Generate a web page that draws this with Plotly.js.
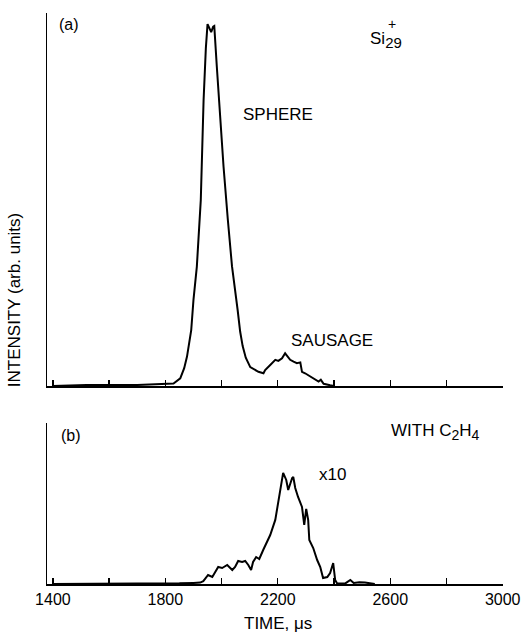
<!DOCTYPE html>
<html>
<head>
<meta charset="utf-8">
<script src="https://cdn.plot.ly/plotly-3.0.1.min.js"></script>
<style>html,body{margin:0;padding:0;background:#fff;}#chart{width:528px;height:634px;}</style>
</head>
<body>
<div id="chart"></div>
<script>
// Panel (a): Si29+ time-of-flight signal (arb. units)
var timeA = [1400, 1520, 1700, 1829, 1853, 1867, 1877, 1886, 1892, 1900, 1912, 1926, 1936, 1944, 1950, 1957, 1963, 1970, 1974, 1983, 1995, 2007, 2022, 2037, 2057, 2066, 2075, 2086, 2102, 2120, 2131, 2149, 2155, 2173, 2191, 2202, 2215, 2226, 2235, 2244, 2256, 2268, 2280, 2286, 2297, 2315, 2333, 2345, 2353, 2363, 2386, 2400];
var intensityA = [0, 0.3, 0.3, 0.7, 2.1, 4.9, 8.1, 12.7, 15.4, 23.7, 32.9, 51.2, 78.8, 93, 99.7, 98.5, 97.5, 99, 99.2, 88.0, 74, 60.4, 46, 33, 21, 15, 11, 7.8, 5.2, 4.3, 3.9, 3.5, 4.4, 5.8, 7.2, 6.9, 7.6, 9.0, 8.1, 7.2, 6.7, 6.3, 6.5, 3.9, 3.5, 2.6, 1.7, 1.2, 1.7, 0.6, 0.2, 0];

// Panel (b): with C2H4 (x10)
var timeB = [1400, 1800, 1850, 1900, 1924, 1935, 1952, 1967, 1977, 1988, 2002, 2020, 2038, 2048, 2059, 2073, 2084, 2095, 2105, 2112, 2123, 2134, 2148, 2173, 2191, 2201, 2212, 2219, 2230, 2237, 2251, 2255, 2262, 2272, 2286, 2294, 2301, 2308, 2312, 2326, 2340, 2351, 2361, 2376, 2386, 2397, 2404, 2411, 2440, 2458, 2470, 2490, 2510, 2530, 2545];
var intensityB = [0, 0.2, 0.6, 1.0, 1.3, 2.5, 8.1, 6.3, 10.8, 15.3, 14.4, 17.1, 12.6, 15.3, 20.7, 19.8, 20.7, 17.1, 12.6, 19.8, 24.3, 22.5, 30.6, 44.1, 57.7, 73.0, 87.4, 100, 93.7, 84.7, 95.5, 96.4, 86.5, 78.4, 69.4, 53.2, 67.6, 57.7, 39.6, 32.4, 21.6, 15.3, 5.4, 6.3, 9.9, 18.9, 3.6, 0.5, 0.5, 3.6, 1.0, 1.5, 1.3, 0.5, 0];

var tickVals = [1400, 1600, 1800, 2000, 2200, 2400, 2600, 2800, 3000];
var tickText = ['1400', '', '1800', '', '2200', '', '2600', '', '3000'];

var FONT = 'Liberation Sans, Arial, Helvetica, sans-serif';
var lineStyle = {color: '#000', width: 2};

var traces = [
  {x: timeA, y: intensityA, xaxis: 'x2', yaxis: 'y2', mode: 'lines', line: lineStyle, hoverinfo: 'skip', showlegend: false},
  {x: timeB, y: intensityB, xaxis: 'x', yaxis: 'y', mode: 'lines', line: lineStyle, hoverinfo: 'skip', showlegend: false}
];

var xCommon = {
  range: [1379, 3001], showgrid: false, zeroline: false, showline: true, linecolor: '#000', linewidth: 2,
  ticks: 'inside', ticklen: 6, tickwidth: 1.3, tickcolor: '#000', tickmode: 'array', tickvals: tickVals
};
var yCommon = {showgrid: false, zeroline: false, showline: true, linecolor: '#000', linewidth: 1.5, ticks: '', showticklabels: false};

var ann = function(text, x, y, opts) {
  var a = {text: text, x: x, y: y, xref: 'paper', yref: 'paper', showarrow: false, font: {family: FONT, size: 17, color: '#000'}, xanchor: 'center', yanchor: 'middle'};
  for (var k in (opts || {})) a[k] = opts[k];
  return a;
};

var layout = {
  width: 528, height: 634,
  margin: {l: 47, r: 25, t: 13, b: 50},
  paper_bgcolor: '#fff', plot_bgcolor: '#fff',
  font: {family: FONT, color: '#000'},
  xaxis: Object.assign({}, xCommon, {anchor: 'y', ticktext: tickText, tickfont: {family: FONT, size: 16, color: '#000'}}),
  yaxis: Object.assign({}, yCommon, {domain: [0, 0.282], range: [0, 145]}),
  xaxis2: Object.assign({}, xCommon, {anchor: 'y2', showticklabels: false}),
  yaxis2: Object.assign({}, yCommon, {domain: [0.3468, 1], range: [0, 102.75]}),
  annotations: [
    ann('(a)', 0.048, 0.979, {font: {family: FONT, size: 16, color: '#000'}}),
    ann('Si<sub><span style="font-size:15px">29</span></sub>', 0.704, 0.953, {xanchor: 'left'}),
    ann('+', 0.756, 0.98, {font: {family: FONT, size: 14, color: '#000'}}),
    ann('SPHERE', 0.5066, 0.8214),
    ann('SAUSAGE', 0.625, 0.4256),
    ann('(b)', 0.0526, 0.2592, {font: {family: FONT, size: 16, color: '#000'}}),
    ann('WITH C<sub><span style="font-size:14px">2</span></sub>H<sub><span style="font-size:14px">4</span></sub>', 0.75, 0.266, {xanchor: 'left'}),
    ann('x10', 0.627, 0.1926),
    ann('TIME, \u03bcs', 0.5066, -0.069),
    ann('INTENSITY (arb. units)', -0.0724, 0.497, {textangle: -90})
  ]
};

Plotly.newPlot('chart', traces, layout, {displayModeBar: false, staticPlot: true});
</script>
</body>
</html>
